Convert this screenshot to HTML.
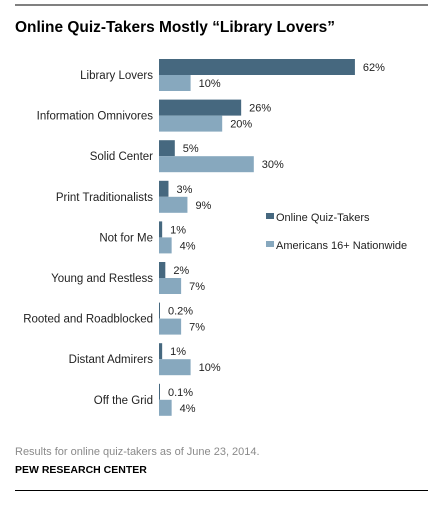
<!DOCTYPE html>
<html><head><meta charset="utf-8"><style>
body{margin:0;background:#fff;font-family:"Liberation Sans",Arial,sans-serif}
svg text{font-family:"Liberation Sans",Arial,sans-serif}
</style></head><body>
<svg width="438" height="506" xmlns="http://www.w3.org/2000/svg">
<rect x="15" y="4.5" width="413" height="1" fill="#000"/>
<text x="15" y="32" font-size="16" font-weight="bold" fill="#000" textLength="320" lengthAdjust="spacingAndGlyphs">Online Quiz-Takers Mostly “Library Lovers”</text>
<g id="bars"></g>
<rect x="266" y="213" width="8" height="6" fill="#46687f"/>
<text x="276" y="221" font-size="11" fill="#222">Online Quiz-Takers</text>
<rect x="266" y="241" width="8" height="6" fill="#87a8be"/>
<text x="276" y="249" font-size="11" fill="#222">Americans 16+ Nationwide</text>
<text x="15" y="455" font-size="11" fill="#8a8a8a">Results for online quiz-takers as of June 23, 2014.</text>
<text x="15" y="473" font-size="10.5" font-weight="bold" fill="#000">PEW RESEARCH CENTER</text>
<rect x="15" y="490" width="413" height="1" fill="#000"/>
</svg>
<script>
const categories=["Library Lovers","Information Omnivores","Solid Center","Print Traditionalists","Not for Me","Young and Restless","Rooted and Roadblocked","Distant Admirers","Off the Grid"];
const quizValues=[62,26,5,3,1,2,0.2,1,0.1];
const nationValues=[10,20,30,9,4,7,7,10,4];
const quizLabels=["62%","26%","5%","3%","1%","2%","0.2%","1%","0.1%"];
const nationLabels=["10%","20%","30%","9%","4%","7%","7%","10%","4%"];
const NS="http://www.w3.org/2000/svg";
const x0=159, pxPer=3.16, top0=59, pitch=40.6, bh=16;
function xScale(v){return v*pxPer;}
function yRow(i){return top0+i*pitch;}
const g=document.getElementById('bars');
function mk(tag,attrs){const e=document.createElementNS(NS,tag);for(const k in attrs)e.setAttribute(k,attrs[k]);g.appendChild(e);return e;}
categories.forEach((c,i)=>{
  const y=yRow(i);
  const lab=mk('text',{x:153,y:y+20,'font-size':11.5,fill:'#222','text-anchor':'end'});
  lab.textContent=c;
  
  
  [[quizValues,quizLabels,'#46687f',0,'bar-quiz','value-quiz'],[nationValues,nationLabels,'#87a8be',bh,'bar-americans','value-americans']].forEach(s=>{
    const w=Math.max(1,xScale(s[0][i]));
    const r=mk('rect',{x:x0,y:y+s[3],width:w,height:bh,fill:s[2]});
    
    
    const t=mk('text',{x:x0+w+8,y:y+s[3]+12,'font-size':11,fill:'#222'});
    t.textContent=s[1][i];
    
    
  });
});
</script>
</body></html>
